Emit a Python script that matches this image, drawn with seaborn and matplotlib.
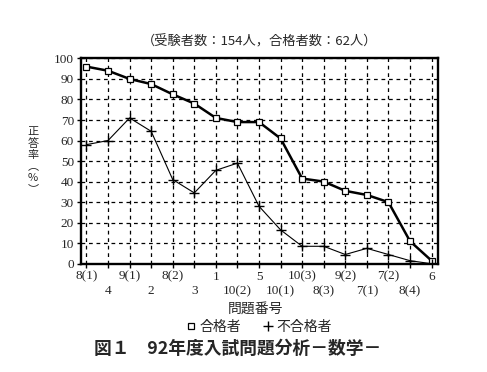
import numpy as np
import pandas as pd
import seaborn as sns
import matplotlib.pyplot as plt
from matplotlib.lines import Line2D

sns.set_style("white")
plt.rcParams["font.family"] = ["Liberation Serif", "Noto Sans CJK JP", "DejaVu Sans"]

questions = ["8(1)", "4", "9(1)", "2", "8(2)", "3", "1", "10(2)", "5",
             "10(1)", "10(3)", "8(3)", "9(2)", "7(1)", "7(2)", "8(4)", "6"]
passed = [96, 94, 90, 87.5, 82.5, 78, 71, 69, 69, 61, 41.5, 40, 35.5, 33.5, 30, 11, 1.5]
failed = [58, 60, 71, 64.5, 41, 34.5, 45.5, 49, 28, 16.5, 8.5, 8.5, 4.5, 7.5, 4.5, 1.5, 0]
ylabel_chars = ["正", "答", "率", "︵", "%", "︶"]

df = pd.DataFrame({"q": np.arange(len(questions)), "passed": passed, "failed": failed})

fig = plt.figure(figsize=(4.87, 3.72), dpi=100)
ax = fig.add_axes([0.166, 0.291, 0.733, 0.552])

sns.lineplot(data=df, x="q", y="passed", ax=ax, color="black", lw=1.8,
             marker="s", markersize=5, markerfacecolor="white",
             markeredgecolor="black", markeredgewidth=0.9)
sns.lineplot(data=df, x="q", y="failed", ax=ax, color="black", lw=0.8,
             marker="+", markersize=7, markeredgecolor="black", markeredgewidth=1.0)

ax.set_xlim(-0.26, 16.29)
ax.set_ylim(0, 100)
ax.set_yticks(range(0, 101, 10))

# two rows of question labels: even positions on top row, odd ones below
ax.set_xticks(df["q"][::2])
ax.set_xticklabels(questions[::2])
ax.set_xticks(df["q"][1::2], minor=True)
ax.set_xticklabels(questions[1::2], minor=True)

ax.grid(True, which="both", axis="x", color="black", ls=(0, (3, 3)), lw=0.9)
ax.grid(True, which="major", axis="y", color="black", ls=(0, (3, 3)), lw=0.9)
ax.tick_params(axis="both", which="both", direction="out", length=3, width=1,
               color="black", labelsize=9.5, pad=2, bottom=True, left=True)
ax.tick_params(axis="x", which="minor", pad=12.5)
for s in ax.spines.values():
    s.set_color("black")
    s.set_linewidth(1.7)

ax.set_xlabel("")
ax.set_ylabel("")
fig.text(0.524, 0.167, "問題番号", fontsize=10, ha="center", va="center",
         family=["Noto Sans CJK JP"])

# vertical y label, one character per line
fig.text(0.068, 0.569, "\n".join(ylabel_chars), fontsize=8, ha="center", va="center",
         family=["Noto Sans CJK JP", "DejaVu Sans"], linespacing=1.15)

fig.text(0.534, 0.888, "（受験者数：154人，合格者数：62人）", fontsize=9.5, ha="center",
         va="center", family=["Noto Sans CJK JP"])

handles = [Line2D([], [], ls="none", marker="s", markersize=5, markerfacecolor="white",
                  markeredgecolor="black", markeredgewidth=0.9),
           Line2D([], [], ls="none", marker="+", markersize=7, color="black")]
fig.legend(handles, ["合格者", "不合格者"], loc="center", bbox_to_anchor=(0.53, 0.121),
           ncol=2, frameon=False, handletextpad=0.1, columnspacing=1.4, handlelength=1,
           prop={"family": "Noto Sans CJK JP", "size": 10})

fig.text(0.487, 0.062, "図１　92年度入試問題分析－数学－", fontsize=12.8, ha="center",
         va="center", weight="bold", family=["Noto Sans CJK JP"])

fig.savefig("out.png", dpi=100)
